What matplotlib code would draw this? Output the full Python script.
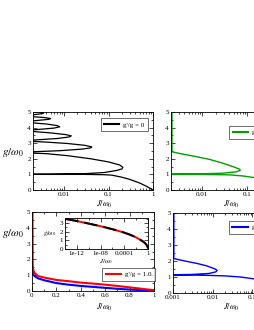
import matplotlib
matplotlib.use("Agg")
import matplotlib.pyplot as plt
from matplotlib.ticker import LogLocator, MultipleLocator, NullFormatter, FixedLocator

plt.rcParams['font.family'] = ['Liberation Serif', 'DejaVu Serif']
plt.rcParams['mathtext.fontset'] = 'stix'

# ---------------- data ----------------
# g'/g = 0 (top-left), J/w0 vs g/w0
J_g0 = [1.0, 0.7, 0.5, 0.3, 0.2, 0.12, 0.08, 0.03, 0.01, 0.003, 0.0005,
        0.0005, 0.005, 0.03, 0.08, 0.15, 0.2, 0.21, 0.18, 0.1, 0.04, 0.012, 0.004, 0.0005,
        0.002, 0.008, 0.025, 0.04, 0.042, 0.03, 0.012, 0.004, 0.0015, 0.0005,
        0.002, 0.007, 0.013, 0.0145, 0.011, 0.005, 0.002, 0.0005,
        0.002, 0.006, 0.008, 0.007, 0.004, 0.0015, 0.0005,
        0.002, 0.0045, 0.005, 0.0035, 0.0015, 0.0005,
        0.002, 0.0033, 0.0035, 0.0025, 0.001, 0.0005]
g_g0 = [0.0, 0.25, 0.45, 0.68, 0.82, 0.95, 0.98, 1.0, 1.0, 1.0, 1.0,
        1.01, 1.02, 1.05, 1.12, 1.25, 1.35, 1.45, 1.6, 1.8, 2.0, 2.2, 2.33, 2.42,
        2.45, 2.52, 2.62, 2.7, 2.76, 2.86, 2.98, 3.07, 3.13, 3.17,
        3.2, 3.3, 3.4, 3.47, 3.55, 3.66, 3.75, 3.81,
        3.85, 3.97, 4.05, 4.13, 4.23, 4.33, 4.38,
        4.43, 4.53, 4.58, 4.65, 4.72, 4.76,
        4.82, 4.9, 4.96, 5.02, 5.08, 5.1]

# g'/g = 0.5 (top-right)
J_g05 = [1.0, 0.5, 0.25, 0.14, 0.08, 0.04, 0.01, 0.0021,
         0.0021, 0.01, 0.03, 0.055, 0.07, 0.068, 0.05, 0.03, 0.015, 0.007, 0.003, 0.0021, 0.0021]
g_g05 = [0.0, 0.4, 0.65, 0.8, 0.9, 0.97, 1.0, 1.0,
         1.02, 1.04, 1.08, 1.16, 1.25, 1.33, 1.48, 1.7, 1.95, 2.15, 2.35, 2.45, 5.0]

# g'/g = 2.0 (bottom-right)
J_g2 = [1.0, 0.5, 0.25, 0.12, 0.05, 0.02, 0.008, 0.003, 0.00105,
        0.00105, 0.003, 0.008, 0.012, 0.013, 0.011, 0.007, 0.004, 0.002, 0.00105, 0.00105]
g_g2 = [0.0, 0.35, 0.6, 0.87, 1.0, 1.07, 1.1, 1.12, 1.12,
        1.14, 1.16, 1.22, 1.32, 1.42, 1.52, 1.7, 1.85, 2.0, 2.15, 5.0]

# g'/g = 1.0 (bottom-left, linear)
J_red = [0.002, 0.003, 0.005, 0.01, 0.02, 0.05, 0.1, 0.2, 0.3, 0.4, 0.5, 0.6, 0.7, 0.8, 0.9, 1.0]
g_red = [5.0, 2.0, 1.6, 1.35, 1.15, 0.95, 0.85, 0.7, 0.62, 0.53, 0.47, 0.4, 0.32, 0.23, 0.14, 0.05]
J_blue = [0.002, 0.003, 0.005, 0.01, 0.02, 0.05, 0.1, 0.2, 0.3, 0.4, 0.5, 0.6, 0.7, 0.8, 0.9, 1.0]
g_blue = [5.0, 1.4, 1.2, 1.05, 0.95, 0.8, 0.68, 0.5, 0.4, 0.32, 0.26, 0.2, 0.14, 0.09, 0.05, 0.02]

# inset
J_ins = [1e-14, 1e-12, 1e-10, 1e-8, 1e-6, 1e-4, 1e-3, 1e-2, 1e-1, 0.3, 0.6, 0.9, 1.0]
g_ins = [3.5, 3.25, 2.95, 2.65, 2.3, 1.9, 1.65, 1.35, 0.95, 0.7, 0.45, 0.2, 0.1]

labels = ["g'/g = 0", "g'/g = 0.5", "g'/g = 1.0", "g'/g = 2.0"]
ylabel = r"$g/\omega_0$"
xlabel = r"$J/\omega_0$"

# ---------------- figure ----------------
W, H = 255, 330
fig = plt.figure(figsize=(W / 100, H / 100), dpi=100)

def pos(x0, x1, y0, y1):
    return [x0 / W, 1 - y1 / H, (x1 - x0) / W, (y1 - y0) / H]

FS = 5

def style(ax):
    ax.tick_params(which='both', direction='in', top=True, right=True,
                   labelsize=FS, width=0.5, pad=1.5)
    ax.tick_params(which='major', length=3)
    ax.tick_params(which='minor', length=1.5)
    for s in ax.spines.values():
        s.set_linewidth(0.6)

def logx(ax, lo, hi):
    ax.set_xscale('log')
    ax.set_xlim(lo, hi)
    ax.xaxis.set_major_locator(LogLocator(base=10, numticks=20))
    ax.xaxis.set_minor_locator(LogLocator(base=10, subs=range(2, 10), numticks=50))
    ax.xaxis.set_minor_formatter(NullFormatter())
    ax.xaxis.set_major_formatter(matplotlib.ticker.FuncFormatter(lambda v, p: f"{v:g}"))

def leg(ax, color, label, loc, bbox):
    h, = ax.plot([], [], color=color, lw=1.5, label=label)
    lg = ax.legend(handles=[h], loc=loc, bbox_to_anchor=bbox, fontsize=FS,
                   frameon=True, fancybox=False, handlelength=2.2,
                   borderpad=0.5, handletextpad=0.6, borderaxespad=0)
    lg.get_frame().set_edgecolor('black')
    lg.get_frame().set_linewidth(0.5)

# top-left
ax1 = fig.add_axes(pos(33, 153, 112, 190))
ax1.plot(J_g0, g_g0, color='black', lw=0.9)
logx(ax1, 0.002, 1)
ax1.set_ylim(0, 5)
ax1.yaxis.set_major_locator(MultipleLocator(1))
ax1.yaxis.set_minor_locator(MultipleLocator(0.5))
style(ax1)
leg(ax1, 'black', labels[0], 'upper right', (0.96, 0.92))

# top-right
ax2 = fig.add_axes(pos(171, 292, 112, 190))
ax2.plot(J_g05, g_g05, color='#00a000', lw=1.0)
logx(ax2, 0.002, 1)
ax2.set_ylim(0, 5)
ax2.yaxis.set_major_locator(MultipleLocator(1))
ax2.yaxis.set_minor_locator(MultipleLocator(0.5))
style(ax2)
leg(ax2, '#00a000', labels[1], 'upper left', (0.48, 0.82))

# bottom-left
ax3 = fig.add_axes(pos(32, 154, 212, 291))
ax3.plot(J_blue, g_blue, color='#0000ff', lw=1.5)
ax3.plot(J_red, g_red, color='#ff0000', lw=1.5)
ax3.set_xlim(0, 1)
ax3.set_ylim(0, 5)
ax3.xaxis.set_major_locator(MultipleLocator(0.2))
ax3.xaxis.set_minor_locator(MultipleLocator(0.1))
ax3.yaxis.set_major_locator(MultipleLocator(1))
ax3.yaxis.set_minor_locator(MultipleLocator(0.5))
ax3.xaxis.set_major_formatter(matplotlib.ticker.FuncFormatter(lambda v, p: f"{v:g}"))
style(ax3)
leg(ax3, '#ff0000', labels[2], 'upper left', (0.575, 0.29))

# inset
ax4 = fig.add_axes(pos(65, 148, 218, 249))
ax4.plot(J_ins, g_ins, color='#ff0000', lw=1.4)
ax4.plot(J_ins, g_ins, color='black', lw=1.4, dashes=(7, 3))
ax4.set_xscale('log')
ax4.set_xlim(1e-14, 1)
ax4.set_ylim(0, 3.6)
ax4.xaxis.set_major_locator(FixedLocator([1e-12, 1e-8, 1e-4, 1]))
ax4.xaxis.set_minor_locator(FixedLocator([1e-14, 1e-10, 1e-6, 1e-2]))
ax4.xaxis.set_minor_formatter(NullFormatter())
ax4.xaxis.set_major_formatter(matplotlib.ticker.FixedFormatter(["1e-12", "1e-08", "0.0001", "1"]))
ax4.yaxis.set_major_locator(MultipleLocator(1))
ax4.yaxis.set_minor_locator(MultipleLocator(0.5))
style(ax4)

# bottom-right
ax5 = fig.add_axes(pos(173, 292, 213, 293))
ax5.plot(J_g2, g_g2, color='#0000ff', lw=1.0)
logx(ax5, 0.001, 1)
ax5.set_ylim(0, 5)
ax5.yaxis.set_major_locator(MultipleLocator(1))
ax5.yaxis.set_minor_locator(MultipleLocator(0.5))
style(ax5)
leg(ax5, '#0000ff', labels[3], 'upper left', (0.47, 0.9))

# axis labels
def ftext(x, y, s, size, **kw):
    fig.text(x / W, 1 - y / H, s, fontsize=size, ha='center', va='center', **kw)

ftext(13, 152, ylabel, 8)
ftext(13, 234, ylabel, 8)
ftext(50, 233, ylabel, 4.5)
ftext(104, 204, xlabel, 6)
ftext(104, 307, xlabel, 6)
ftext(231, 204, xlabel, 6)
ftext(231, 307, xlabel, 6)
ftext(106, 262, xlabel, 5)

fig.savefig("out.png", dpi=100)
